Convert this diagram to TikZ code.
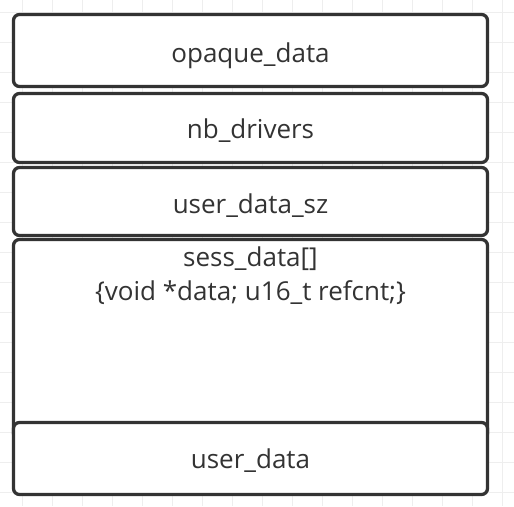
\documentclass[tikz,border=0pt]{standalone}
\usepackage{fontspec}
\setmainfont{Open Sans}
\definecolor{ink}{HTML}{333333}
\definecolor{gridc}{HTML}{EEEEEE}
\begin{document}
\begin{tikzpicture}[x=1pt,y=-1pt,
  fieldbox/.style={draw=ink, line width=3.3pt, rounded corners=6pt, fill=white,
    inner sep=0pt, minimum width=474pt},
  lbl/.style={text=ink, font=\fontsize{26}{32}\selectfont, inner sep=0pt, anchor=base}]
\useasboundingbox (0,0) rectangle (514,506);
\fill[white] (0,0) rectangle (514,506);
\foreach \x in {22,52,...,502} \draw[gridc, line width=1pt] (\x,0) -- (\x,506);
\foreach \y in {12,42,...,492} \draw[gridc, line width=1pt] (0,\y) -- (514,\y);
\node[fieldbox, minimum height=72pt] (b1) at (250.5,50.5) {};
\node[fieldbox, minimum height=69pt] (b2) at (250.5,128) {};
\node[fieldbox, minimum height=68pt] (b3) at (250.5,201.5) {};
\node[fieldbox, minimum height=200pt] (b4) at (250.5,339.5) {};
\node[fieldbox, minimum height=72pt] (b5) at (250.5,458.5) {};
\node[lbl] (t1) at (250.5,62) {opaque\_data};
\node[lbl] (t2) at (250.5,138.5) {nb\_drivers};
\node[lbl] (t3) at (250.5,213) {user\_data\_sz};
\node[lbl] (t4a) at (250.5,266) {sess\_data[]};
\node[lbl] (t4b) at (250.5,300) {\{void *data; u16\_t refcnt;\}};
\node[lbl] (t5) at (250.5,468) {user\_data};
\end{tikzpicture}
\end{document}
